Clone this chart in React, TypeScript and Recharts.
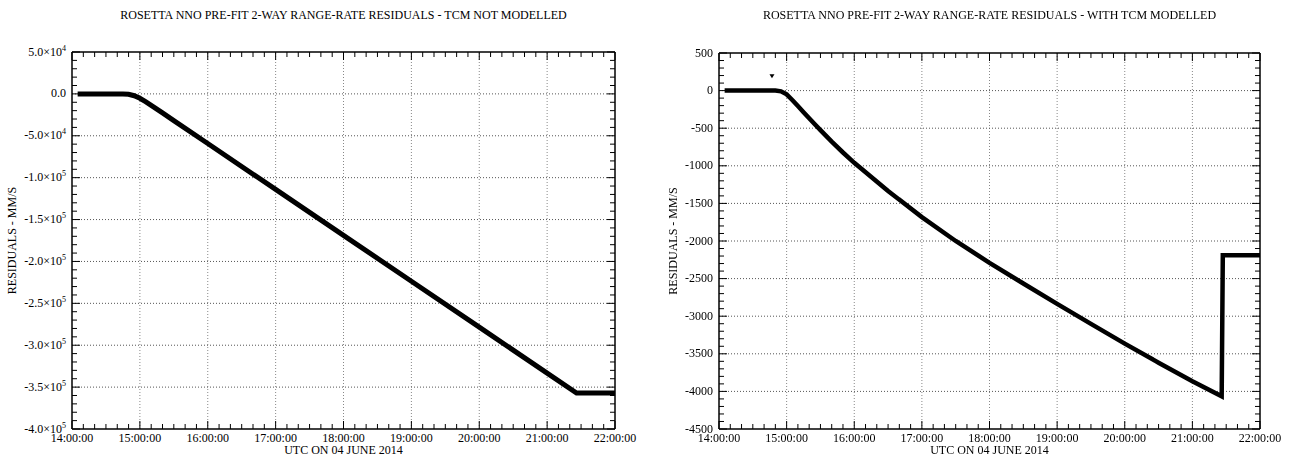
import React from 'react';
import { ComposedChart, Line, XAxis, YAxis, ReferenceLine, Scatter } from 'recharts';

const FONT = "'Liberation Serif', 'DejaVu Serif', serif";

// time in minutes after 00:00 UTC, 04 June 2014
const X_MAJOR = [840, 900, 960, 1020, 1080, 1140, 1200, 1260, 1320];
const X_LABELS = ['14:00:00', '15:00:00', '16:00:00', '17:00:00', '18:00:00', '19:00:00', '20:00:00', '21:00:00', '22:00:00'];
const X_MINOR_STEP = 10;

const LEFT_Y_MAJOR = [50000, 0, -50000, -100000, -150000, -200000, -250000, -300000, -350000, -400000];
const LEFT_Y_LABELS = ['5.0×10^4', '0.0', '-5.0×10^4', '-1.0×10^5', '-1.5×10^5', '-2.0×10^5', '-2.5×10^5', '-3.0×10^5', '-3.5×10^5', '-4.0×10^5'];
const LEFT_Y_MINOR_STEP = 10000;

const RIGHT_Y_MAJOR = [500, 0, -500, -1000, -1500, -2000, -2500, -3000, -3500, -4000, -4500];
const RIGHT_Y_LABELS = ['500', '0', '-500', '-1000', '-1500', '-2000', '-2500', '-3000', '-3500', '-4000', '-4500'];
const RIGHT_Y_MINOR_STEP = 100;

const LEFT_TIMES = [845, 885, 890, 895, 900, 905, 910, 915, 920, 930, 960, 1020, 1080, 1140, 1200, 1260, 1286, 1320];
const LEFT_RESID = [0, 0, -400, -2200, -5200, -9200, -13600, -18150, -22700, -31850, -59250, -114050, -168850, -223650, -278450, -333250, -357000, -357000];

const RIGHT_TIMES = [845, 890, 895, 900, 905, 910, 915, 920, 925, 930, 940, 950, 960, 990, 1020, 1050, 1080, 1110, 1140, 1170, 1200, 1230, 1260, 1286, 1287, 1320];
const RIGHT_RESID = [0, 0, -10, -50, -125, -205, -287, -368, -448, -526, -678, -823, -960, -1335, -1682, -2000, -2290, -2565, -2836, -3102, -3364, -3618, -3866, -4066, -2190, -2190];

const MARKER_TIMES = [887];
const MARKER_RESID = [190];

const TITLES = [
  'ROSETTA NNO PRE-FIT 2-WAY RANGE-RATE RESIDUALS - TCM NOT MODELLED',
  'ROSETTA NNO PRE-FIT 2-WAY RANGE-RATE RESIDUALS - WITH TCM MODELLED',
];
const X_TITLE = 'UTC ON 04 JUNE 2014';
const Y_TITLE = 'RESIDUALS - MM/S';

function range(lo: number, hi: number, step: number): number[] {
  const out: number[] = [];
  for (let v = lo; v <= hi + 1e-9; v += step) out.push(v);
  return out;
}

const MAJOR_LEN = 8;
const MINOR_LEN = 5;
const TICK_FS = 12;
const textStyle = { fontFamily: FONT };

function renderLabel(label: string, x: number, y: number, anchor: string) {
  const parts = label.split('^');
  return (
    <text x={x} y={y} textAnchor={anchor} style={textStyle} fontSize={TICK_FS} fill="#000">
      {parts[0]}
      {parts.length > 1 ? (
        <tspan dy={-5} fontSize={8}>{parts[1]}</tspan>
      ) : null}
    </text>
  );
}

function makeXTick(side: 'bottom' | 'top') {
  return (props: any) => {
    const { x, y, payload } = props;
    const idx = X_MAJOR.indexOf(payload.value);
    const major = idx >= 0;
    const len = major ? MAJOR_LEN : MINOR_LEN;
    const y2 = side === 'bottom' ? y - len : y + len;
    return (
      <g>
        <line x1={x} x2={x} y1={y} y2={y2} stroke="#000" strokeWidth={1} />
        {side === 'bottom' && major ? renderLabel(X_LABELS[idx], x, y + 12.5, 'middle') : null}
      </g>
    );
  };
}

function makeYTick(side: 'left' | 'right', majors: number[], labels: string[]) {
  return (props: any) => {
    const { x, y, payload } = props;
    const idx = majors.indexOf(payload.value);
    const major = idx >= 0;
    const len = major ? MAJOR_LEN : MINOR_LEN;
    const x2 = side === 'left' ? x + len : x - len;
    return (
      <g>
        <line x1={x} x2={x2} y1={y} y2={y} stroke="#000" strokeWidth={1} />
        {side === 'left' && major ? renderLabel(labels[idx], x - 6, y + 3.5, 'end') : null}
      </g>
    );
  };
}

const Triangle = (props: any) => {
  const { cx, cy } = props;
  return <path d={`M${cx - 2.5},${cy - 2} L${cx + 2.5},${cy - 2} L${cx},${cy + 2} Z`} fill="#000" />;
};

interface PanelProps {
  title: string;
  left: number;
  width: number;
  axisLeft: number;
  axisRight: number;
  axisTop: number;
  axisBottom: number;
  yTitleX: number;
  times: number[];
  values: number[];
  yMajor: number[];
  yLabels: string[];
  yMinorStep: number;
  strokeWidth: number;
  marker?: boolean;
}

function Panel(p: PanelProps) {
  const height = 464;
  const data = p.times.map((t, i) => ({ t, v: p.values[i] }));
  const yMin = Math.min(...p.yMajor);
  const yMax = Math.max(...p.yMajor);
  const xTicks = range(X_MAJOR[0], X_MAJOR[X_MAJOR.length - 1], X_MINOR_STEP);
  const yTicks = range(yMin, yMax, p.yMinorStep);
  const xInner = X_MAJOR.slice(1, -1);
  const yInner = p.yMajor.slice(1, -1);
  const markerData = MARKER_TIMES.map((t, i) => ({ t, v: MARKER_RESID[i] }));
  const plotW = p.width - p.axisLeft - p.axisRight;
  const axisStyle = { stroke: '#000', strokeWidth: 1.5 };
  return (
    <div style={{ position: 'absolute', left: p.left, top: 0, width: p.width, height }}>
      <div
        style={{
          position: 'absolute',
          left: p.axisLeft - 50,
          width: plotW + 100,
          top: 8,
          textAlign: 'center',
          fontFamily: FONT,
          fontSize: 12,
          whiteSpace: 'nowrap',
          lineHeight: '14px',
        }}
      >
        {p.title}
      </div>
      <ComposedChart width={p.width} height={height} data={data} margin={{ top: 0, right: 0, bottom: 0, left: 0 }}>
        <XAxis
          xAxisId="b"
          dataKey="t"
          type="number"
          domain={[X_MAJOR[0], X_MAJOR[X_MAJOR.length - 1]]}
          ticks={xTicks}
          interval={0}
          orientation="bottom"
          height={p.axisBottom}
          tickSize={0}
          tickMargin={0}
          tickLine={false}
          axisLine={axisStyle}
          tick={makeXTick('bottom')}
          label={{
            content: (lp: any) => {
              const vb = lp.viewBox;
              return (
                <text x={vb.x + vb.width / 2} y={vb.y + 25} textAnchor="middle" style={textStyle} fontSize={12} fill="#000">
                  {X_TITLE}
                </text>
              );
            },
          }}
        />
        <XAxis
          xAxisId="t"
          dataKey="t"
          type="number"
          domain={[X_MAJOR[0], X_MAJOR[X_MAJOR.length - 1]]}
          ticks={xTicks}
          interval={0}
          orientation="top"
          height={p.axisTop}
          tickSize={0}
          tickMargin={0}
          tickLine={false}
          axisLine={axisStyle}
          tick={makeXTick('top')}
        />
        <YAxis
          yAxisId="l"
          dataKey="v"
          type="number"
          domain={[yMin, yMax]}
          ticks={yTicks}
          interval={0}
          orientation="left"
          width={p.axisLeft}
          tickSize={0}
          tickMargin={0}
          tickLine={false}
          axisLine={axisStyle}
          tick={makeYTick('left', p.yMajor, p.yLabels)}
          label={{
            content: (lp: any) => {
              const vb = lp.viewBox;
              const cx = vb.x + p.yTitleX;
              const cy = vb.y + vb.height / 2;
              return (
                <text
                  x={cx}
                  y={cy}
                  transform={`rotate(-90 ${cx} ${cy})`}
                  textAnchor="middle"
                  dominantBaseline="central"
                  style={textStyle}
                  fontSize={12}
                  fill="#000"
                >
                  {Y_TITLE}
                </text>
              );
            },
          }}
        />
        <YAxis
          yAxisId="r"
          dataKey="v"
          type="number"
          domain={[yMin, yMax]}
          ticks={yTicks}
          interval={0}
          orientation="right"
          width={p.axisRight}
          tickSize={0}
          tickMargin={0}
          tickLine={false}
          axisLine={axisStyle}
          tick={makeYTick('right', p.yMajor, p.yLabels)}
        />
        {xInner.map((v) => (
          <ReferenceLine key={'gx' + v} x={v} xAxisId="b" yAxisId="l" stroke="#888" strokeDasharray="1 2" strokeWidth={1} />
        ))}
        {yInner.map((v) => (
          <ReferenceLine key={'gy' + v} y={v} xAxisId="b" yAxisId="l" stroke="#555" strokeDasharray="1 2" strokeWidth={1} />
        ))}
        <Line
          xAxisId="b"
          yAxisId="l"
          dataKey="v"
          type="linear"
          stroke="#000"
          strokeWidth={p.strokeWidth}
          dot={false}
          isAnimationActive={false}
        />
        {p.marker ? (
          <Scatter xAxisId="b" yAxisId="l" data={markerData} dataKey="v" shape={Triangle} isAnimationActive={false} />
        ) : null}
      </ComposedChart>
    </div>
  );
}

export default function App() {
  return (
    <div style={{ position: 'fixed', left: 0, top: 0, width: 1291, height: 464, background: '#fff', fontFamily: FONT }}>
      <Panel
        title={TITLES[0]}
        left={0}
        width={645}
        axisLeft={72}
        axisRight={30}
        axisTop={52}
        axisBottom={35}
        yTitleX={12}
        times={LEFT_TIMES}
        values={LEFT_RESID}
        yMajor={LEFT_Y_MAJOR}
        yLabels={LEFT_Y_LABELS}
        yMinorStep={LEFT_Y_MINOR_STEP}
        strokeWidth={5}
      />
      <Panel
        title={TITLES[1]}
        left={645}
        width={646}
        axisLeft={74}
        axisRight={31}
        axisTop={53}
        axisBottom={35}
        yTitleX={28}
        times={RIGHT_TIMES}
        values={RIGHT_RESID}
        yMajor={RIGHT_Y_MAJOR}
        yLabels={RIGHT_Y_LABELS}
        yMinorStep={RIGHT_Y_MINOR_STEP}
        strokeWidth={4.5}
        marker
      />
    </div>
  );
}
